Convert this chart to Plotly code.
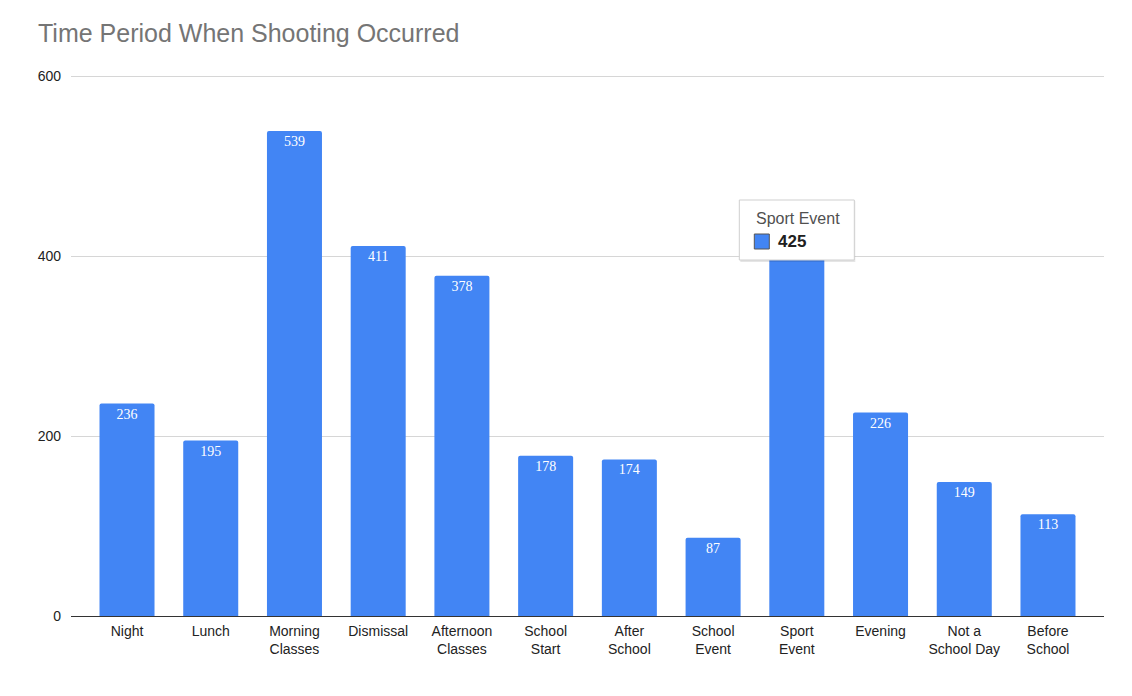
import plotly.graph_objects as go

# Data
categories = ["Night", "Lunch", "Morning<br>Classes", "Dismissal", "Afternoon<br>Classes",
              "School<br>Start", "After<br>School", "School<br>Event", "Sport<br>Event",
              "Evening", "Not a<br>School Day", "Before<br>School"]
counts = [236, 195, 539, 411, 378, 178, 174, 87, 425, 226, 149, 113]
y_ticks = [0, 200, 400, 600]

# highlighted bar (tooltip covers its label)
hover_idx = 8
hover_name = "Sport Event"

labels = [str(v) for v in counts]
labels[hover_idx] = ""

# page body has an 8px margin, so the figure is drawn 8px smaller
W, H = 1116, 680
BLUE = "#4285F4"

fig = go.Figure(go.Bar(
    x=categories,
    y=counts,
    marker=dict(color=BLUE, cornerradius=2, line=dict(width=0)),
    text=labels,
    textposition="inside",
    insidetextanchor="end",
    textangle=0,
    textfont=dict(family="Liberation Serif, Times New Roman, serif", size=14, color="white"),
    hoverinfo="none",
))

# tooltip box, pixel sized and pinned to the hovered bar's value
tip = dict(xref="x", yref="y", xsizemode="pixel", ysizemode="pixel",
           xanchor=hover_idx, yanchor=counts[hover_idx], layer="above")
fig.add_shape(type="rect", x0=-56.5, x1=58.5, y0=-28.5, y1=32.5,
              fillcolor="rgba(0,0,0,0.10)", line=dict(width=0), **tip)
fig.add_shape(type="rect", x0=-57.5, x1=57.5, y0=-26.5, y1=33.5,
              fillcolor="white", line=dict(color="#cfcfcf", width=1), **tip)
fig.add_shape(type="rect", x0=-42.5, x1=-27.5, y0=-15.5, y1=-0.5,
              fillcolor=BLUE, line=dict(color="#555555", width=1), **tip)

fig.add_annotation(
    x=categories[hover_idx], y=counts[hover_idx], xref="x", yref="y",
    text=hover_name, showarrow=False, xanchor="left", yanchor="middle",
    xshift=-43, yshift=15.5,
    font=dict(family="Arial, Liberation Sans, sans-serif", size=16, color="#505050"),
)
fig.add_annotation(
    x=categories[hover_idx], y=counts[hover_idx], xref="x", yref="y",
    text=f"<b>{counts[hover_idx]}</b>", showarrow=False, xanchor="left", yanchor="middle",
    xshift=-21, yshift=-8,
    font=dict(family="Arial, Liberation Sans, sans-serif", size=17, color="#202020"),
)

fig.update_layout(
    width=W, height=H,
    paper_bgcolor="white",
    plot_bgcolor="white",
    margin=dict(l=63, r=20, t=59, b=72),
    title=dict(text="Time Period When Shooting Occurred",
               x=30 / W, xanchor="left", y=1 - 25 / H, yanchor="middle",
               font=dict(family="Arial, Liberation Sans, sans-serif", size=25, color="#757575")),
    font=dict(family="Arial, Liberation Sans, sans-serif", size=14, color="#222222"),
    bargap=0.343,
    showlegend=False,
)

fig.update_yaxes(range=[0, 610], tickvals=y_ticks, showgrid=True, gridcolor="#d6d6d6",
                 gridwidth=1, zeroline=False, showline=False, ticks="", ticklabelstandoff=9,
                 tickfont=dict(size=14, color="#222222"))
fig.update_xaxes(range=[-0.669, 11.669], showline=True, linecolor="#333333", linewidth=1,
                 ticks="", ticklabelstandoff=2,
                 tickfont=dict(size=14, color="#222222"), tickangle=0)

fig.write_html("out.html")
